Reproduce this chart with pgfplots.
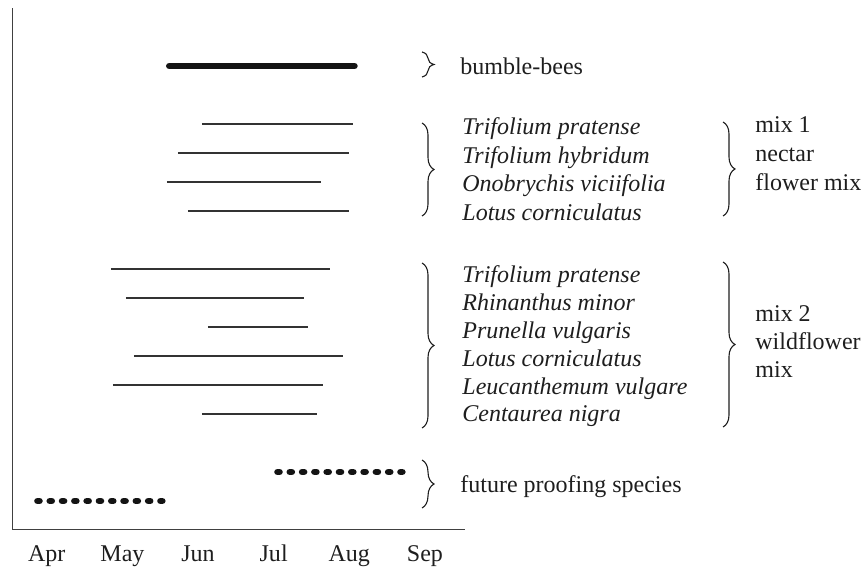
\documentclass[border=0pt]{standalone}
\usepackage{fontspec}
\setmainfont{Liberation Serif}
\usepackage{pgfplots}
\pgfplotsset{compat=1.18}
\usetikzlibrary{decorations.pathreplacing}
\definecolor{ink}{HTML}{1E1E1E}
\definecolor{rule}{HTML}{333333}

\begin{document}
\begin{tikzpicture}[font=\fontsize{12}{14}\selectfont,
  thinbar/.style={color=rule, line width=0.7pt},
  dotbar/.style={color=black!92, line width=3.4pt, line cap=round, dash pattern=on 0.9pt off 5.25pt},
  brace/.style={decorate, decoration={brace, amplitude=6pt}, line width=0.55pt, draw=ink}]
\path[use as bounding box] (-6pt,-18.5pt) rectangle (425pt,265pt);
\begin{axis}[
  at={(0,0)}, anchor=south west,
  scale only axis, width=226.5pt, height=261pt,
  xmin=-0.46, xmax=5.53, ymin=0, ymax=18,
  axis lines=left, axis line style={-, black!75, line width=0.5pt},
  xtick={0,1,2,3,4,5}, xticklabels={Apr,May,Jun,Jul,Aug,Sep},
  ytick=\empty, major tick length=0pt,
  xticklabel style={anchor=base, inner sep=0pt, yshift=-16pt, text=ink, font=\fontsize{12}{14}\selectfont},
  clip=false,
]
% bumble-bees
\addplot[color=black!92, line width=3.3pt, line cap=round] coordinates {(1.620,16) (4.068,16)};
% mix 1 nectar flower mix
\addplot[thinbar] coordinates {(2.05,14) (4.05,14)};
\addplot[thinbar] coordinates {(1.733,13) (3.995,13)};
\addplot[thinbar] coordinates {(1.587,12) (3.624,12)};
\addplot[thinbar] coordinates {(1.865,11) (3.995,11)};
% mix 2 wildflower mix
\addplot[thinbar] coordinates {(0.847,9) (3.743,9)};
\addplot[thinbar] coordinates {(1.045,8) (3.399,8)};
\addplot[thinbar] coordinates {(2.130,7) (3.452,7)};
\addplot[thinbar] coordinates {(1.151,6) (3.915,6)};
\addplot[thinbar] coordinates {(0.873,5) (3.651,5)};
\addplot[thinbar] coordinates {(2.050,4) (3.571,4)};
% future proofing species
\addplot[dotbar] coordinates {(3.052,2) (4.700,2)};
\addplot[dotbar] coordinates {(-0.122,1) (1.526,1)};
\end{axis}
\begin{scope}[shift={(-6pt,265pt)}, x=0.5pt, y=-0.5pt,
  every node/.style={anchor=base west, inner sep=0pt, text=ink}]
\draw[brace] (422,52) -- (422,77);
\node at (460,75) {bumble-bees};
\draw[brace] (422,123) -- (422,216);
\node at (462,135) {\itshape Trifolium pratense};
\node at (462,163.5) {\itshape Trifolium hybridum};
\node at (462,192) {\itshape Onobrychis viciifolia};
\node at (462,220.5) {\itshape Lotus corniculatus};
\draw[brace] (723,122) -- (723,216);
\node at (755,133) {mix 1};
\node at (755,162) {nectar};
\node at (755,191) {flower mix};
\draw[brace] (422,263) -- (422,428);
\node at (462,283) {\itshape Trifolium pratense};
\node at (462,310.8) {\itshape Rhinanthus minor};
\node at (462,338.6) {\itshape Prunella vulgaris};
\node at (462,366.4) {\itshape Lotus corniculatus};
\node at (462,394.2) {\itshape Leucanthemum vulgare};
\node at (462,422) {\itshape Centaurea nigra};
\draw[brace] (723,262) -- (723,427);
\node at (755,322) {mix 2};
\node at (755,350) {wildflower};
\node at (755,378) {mix};
\draw[brace] (422,460) -- (422,508);
\node at (460,493) {future proofing species};
\end{scope}
\end{tikzpicture}
\end{document}
